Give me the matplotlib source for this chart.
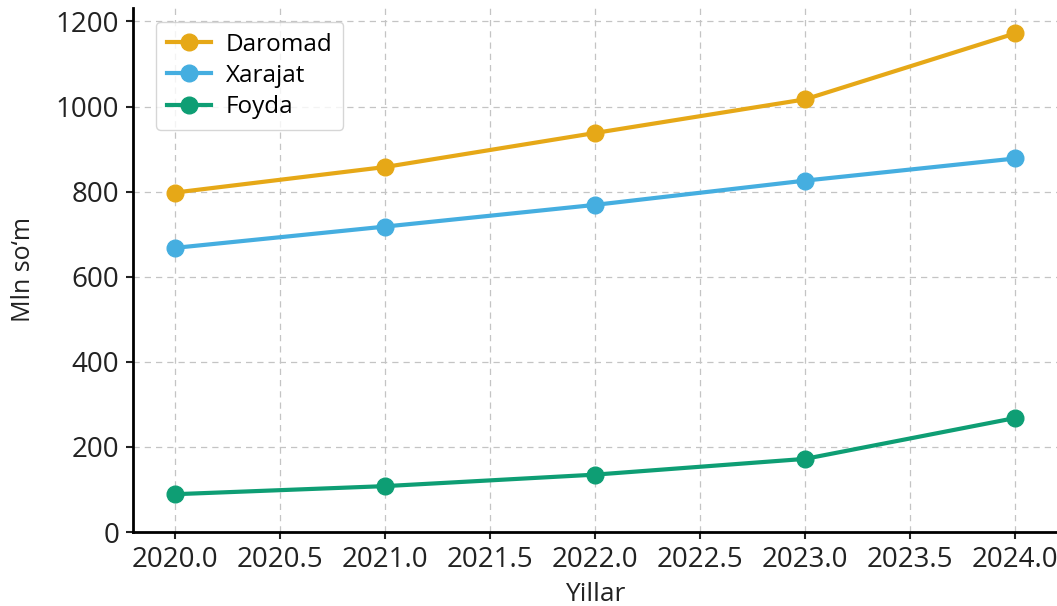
import matplotlib.pyplot as plt

plt.rcParams['font.family'] = ['Open Sans', 'DejaVu Sans']

years = [2020, 2021, 2022, 2023, 2024]
daromad = [798, 858, 938, 1017, 1172]
xarajat = [668, 718, 769, 826, 878]
foyda = [89, 108, 135, 172, 268]

series = [
    ("Daromad", daromad, "#E6A817"),
    ("Xarajat", xarajat, "#45AEE0"),
    ("Foyda", foyda, "#0E9E74"),
]


def main():
    fig = plt.figure(figsize=(10.57, 6.06), dpi=100)
    ax = fig.add_axes([0.126, 0.122, 0.874, 0.865])

    for name, vals, col in series:
        ax.plot(years, vals, marker='o', color=col, lw=3, ms=12, label=name)

    ax.set_xlim(2019.8, 2024.2)
    ax.set_ylim(0, 1232)
    ax.set_xticks([2020.0, 2020.5, 2021.0, 2021.5, 2022.0, 2022.5, 2023.0, 2023.5, 2024.0])
    ax.set_xticklabels([f"{t:.1f}" for t in ax.get_xticks()])
    ax.set_yticks(range(0, 1201, 200))

    ax.grid(True, linestyle=(0, (5, 4)), color='#c4c4c4', lw=0.9)
    ax.spines['top'].set_visible(False)
    ax.spines['right'].set_visible(False)
    ax.spines['left'].set_linewidth(2)
    ax.spines['bottom'].set_linewidth(2)
    ax.tick_params(labelsize=20, width=1.5, length=5, pad=5, colors='#222222')

    ax.set_xlabel("Yillar", fontsize=19, color='#222222', labelpad=6)
    ax.set_ylabel("Mln so\u2018m", fontsize=18, color='#222222', labelpad=14)

    ax.legend(loc='upper left', fontsize=17.5, frameon=True, borderpad=0.45,
              handlelength=1.8, handletextpad=0.6, labelspacing=0.3,
              bbox_to_anchor=(0.012, 0.997))

    fig.savefig("out.png", dpi=100)


if __name__ == '__main__':
    main()
